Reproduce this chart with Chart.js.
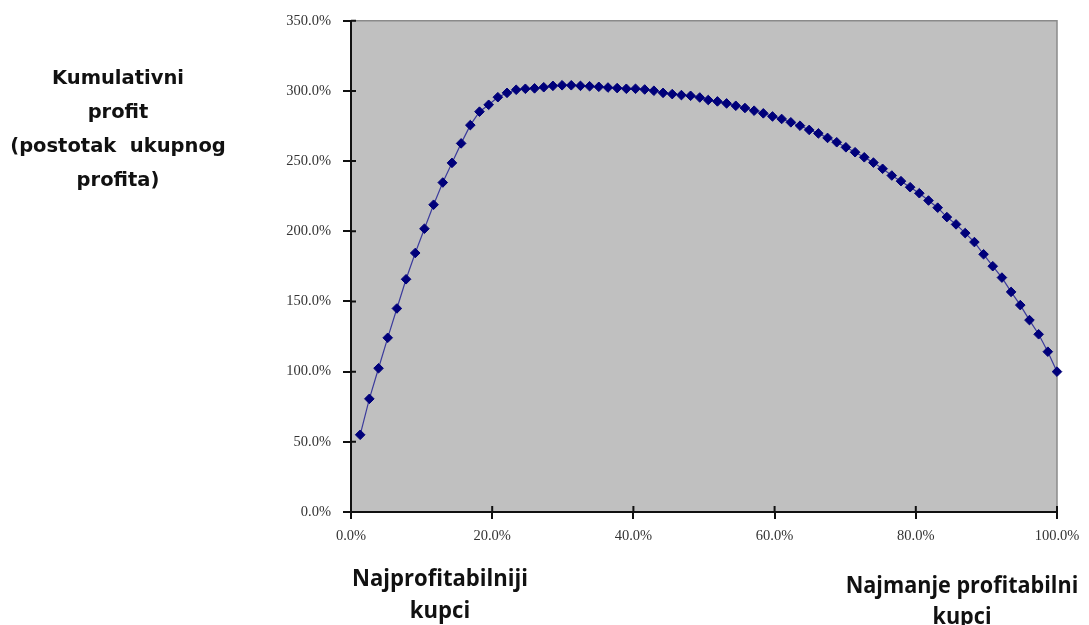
<!DOCTYPE html>
<html lang="hr">
<head>
<meta charset="UTF-8">
<title>Kumulativni profit</title>
<script src="https://cdn.jsdelivr.net/npm/chart.js"></script>
<style>
    html, body { margin: 0; padding: 0; background: #fff; }
    #wrap { position: relative; width: 1089px; height: 625px; overflow: hidden; }
    #chart { position: absolute; left: 0; top: 0; }
    .lbl {
        position: absolute;
        font-family: "Open Sans", sans-serif;
        font-weight: 700;
        color: #111;
        text-align: center;
        white-space: pre;
    }
    #yTitle {
        left: 0; top: 61px; width: 236px;
        font-family: "DejaVu Sans", sans-serif;
        font-size: 19.5px; line-height: 34px;
    }
    #leftNote {
        left: 320px; top: 561px; width: 240px;
        font-size: 24px; line-height: 32px;
        transform: scaleX(0.92);
    }
    #rightNote {
        left: 832px; top: 568px; width: 260px;
        font-size: 24px; line-height: 31px;
        transform: scaleX(0.9);
    }
</style>
</head>
<body>
<div id="wrap">
    <canvas id="chart" width="1089" height="625"></canvas>
    <div class="lbl" id="yTitle">Kumulativni
profit
(postotak  ukupnog
profita)</div>
    <div class="lbl" id="leftNote">Najprofitabilniji
kupci</div>
    <div class="lbl" id="rightNote">Najmanje profitabilni
kupci</div>
</div>

<script>
    // share of customers (%), sorted from most to least profitable
    const customerShare = [
        1.3, 2.6, 3.9, 5.2, 6.5, 7.8, 9.1, 10.4, 11.7, 13.0,
        14.3, 15.6, 16.9, 18.2, 19.5, 20.8, 22.1, 23.4, 24.7, 26.0,
        27.3, 28.6, 29.9, 31.2, 32.5, 33.8, 35.1, 36.4, 37.7, 39.0,
        40.3, 41.6, 42.9, 44.2, 45.5, 46.8, 48.1, 49.4, 50.6, 51.9,
        53.2, 54.5, 55.8, 57.1, 58.4, 59.7, 61.0, 62.3, 63.6, 64.9,
        66.2, 67.5, 68.8, 70.1, 71.4, 72.7, 74.0, 75.3, 76.6, 77.9,
        79.2, 80.5, 81.8, 83.1, 84.4, 85.7, 87.0, 88.3, 89.6, 90.9,
        92.2, 93.5, 94.8, 96.1, 97.4, 98.7, 100.0
    ];

    // cumulative profit as % of total profit
    const cumulativeProfit = [
        55.0, 80.6, 102.4, 124.1, 145.0, 165.8, 184.5, 201.8, 218.9, 234.7,
        248.7, 262.6, 275.6, 285.2, 290.1, 295.5, 298.6, 300.8, 301.5, 301.8,
        302.6, 303.6, 304.0, 304.0, 303.6, 303.3, 302.9, 302.4, 302.0, 301.5,
        301.5, 301.0, 300.1, 298.6, 297.7, 297.0, 296.5, 295.3, 293.5, 292.5,
        291.1, 289.4, 287.8, 285.9, 284.0, 281.8, 280.0, 277.6, 275.2, 272.2,
        269.7, 266.5, 263.4, 259.8, 256.3, 252.7, 248.9, 244.5, 239.7, 235.7,
        231.4, 227.1, 221.9, 216.8, 210.1, 204.9, 198.7, 192.3, 183.6, 175.1,
        167.0, 156.8, 147.4, 136.7, 126.6, 114.2, 100.0
    ];

    const xTicks = [0, 20, 40, 60, 80, 100];
    const yTicks = [0, 50, 100, 150, 200, 250, 300, 350];

    const points = customerShare.map((x, i) => ({ x: x, y: cumulativeProfit[i] }));

    // grey plot area, thin grey top/right frame, ticks crossing the axes
    const framePlugin = {
        id: 'frame',
        beforeDraw(chart) {
            const a = chart.chartArea;
            const ctx = chart.ctx;
            ctx.save();
            ctx.fillStyle = '#c0c0c0';
            ctx.fillRect(a.left, a.top, a.right - a.left, a.bottom - a.top);
            ctx.strokeStyle = '#8a8a8a';
            ctx.lineWidth = 1.5;
            ctx.beginPath();
            ctx.moveTo(a.left, a.top);
            ctx.lineTo(a.right, a.top);
            ctx.lineTo(a.right, a.bottom);
            ctx.stroke();
            ctx.restore();
        },
        afterDraw(chart) {
            const a = chart.chartArea;
            const ctx = chart.ctx;
            ctx.save();
            ctx.strokeStyle = '#111';
            ctx.lineWidth = 2;
            ctx.beginPath();
            yTicks.forEach(v => {
                const py = chart.scales.y.getPixelForValue(v);
                ctx.moveTo(a.left, py);
                ctx.lineTo(a.left + 5, py);
            });
            xTicks.forEach(v => {
                const px = chart.scales.x.getPixelForValue(v);
                ctx.moveTo(px, a.bottom);
                ctx.lineTo(px, a.bottom - 6);
            });
            ctx.stroke();
            ctx.restore();
        }
    };

    const tickFont = { family: '"Liberation Serif", serif', size: 14.5 };

    new Chart(document.getElementById('chart').getContext('2d'), {
        type: 'scatter',
        data: {
            datasets: [{
                data: points,
                showLine: true,
                clip: false,
                borderColor: '#3b3b9c',
                borderWidth: 1.2,
                pointStyle: 'rectRot',
                pointRadius: 4.8,
                pointBorderWidth: 1,
                pointBackgroundColor: '#00007a',
                pointBorderColor: '#00007a'
            }]
        },
        options: {
            responsive: false,
            animation: false,
            layout: { padding: { left: 251, right: 32, top: 16, bottom: 72 } },
            plugins: {
                legend: { display: false },
                tooltip: { enabled: false }
            },
            scales: {
                x: {
                    type: 'linear',
                    min: 0,
                    max: 100,
                    afterFit: s => { s.height = 41; },
                    afterBuildTicks: s => { s.ticks = xTicks.map(v => ({ value: v })); },
                    ticks: {
                        color: '#333',
                        font: tickFont,
                        padding: 8,
                        maxRotation: 0,
                        callback: v => v.toFixed(1) + '%'
                    },
                    grid: { drawOnChartArea: false, tickLength: 7, color: '#111', lineWidth: 2 },
                    border: { color: '#111', width: 2 }
                },
                y: {
                    min: 0,
                    max: 350,
                    afterFit: s => { s.width = 100; },
                    afterBuildTicks: s => { s.ticks = yTicks.map(v => ({ value: v })); },
                    ticks: {
                        color: '#333',
                        font: tickFont,
                        padding: 12,
                        callback: v => v.toFixed(1) + '%'
                    },
                    grid: { drawOnChartArea: false, tickLength: 8, color: '#111', lineWidth: 2 },
                    border: { color: '#111', width: 2 }
                }
            }
        },
        plugins: [framePlugin]
    });
</script>
</body>
</html>
